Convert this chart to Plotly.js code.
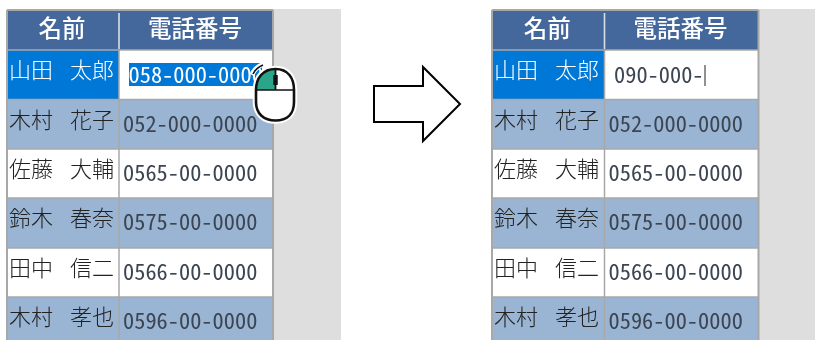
<!DOCTYPE html>
<html><head><meta charset="utf-8">
<script src="https://cdn.plot.ly/plotly-3.0.1.min.js"></script>
<style>html,body{margin:0;padding:0;background:#fff}#c{width:815px;height:340px;filter:blur(0.35px)}</style></head>
<body><div id="c"></div>
<script>
const headers = ["名前", "電話番号"];
const names = ["山田　太郎", "木村　花子", "佐藤　大輔", "鈴木　春奈", "田中　信二", "木村　孝也"];
const phonesBefore = ["058-000-0000", "052-000-0000", "0565-00-0000", "0575-00-0000", "0566-00-0000", "0596-00-0000"];
const phonesAfter = ["090-000-", "052-000-0000", "0565-00-0000", "0575-00-0000", "0566-00-0000", "0596-00-0000"];

const rowEdges = [50, 99.5, 149, 198, 248, 297, 345];
const HEAD = "#44689c", ALT = "#9ab5d3", SEL = "#0078d7", GRID = "#a8a8a8", GREY = "#dedede";
const NAMEF = '"Noto Sans CJK JP"', NUMF = '"Noto Sans Mono CJK JP","Liberation Mono",monospace';
const NUMS = 22.4, NUMC = "#3c4552";
const shapes = [], above = [];
function rect(x0, y0, x1, y1, fill, list) {
  (list || shapes).push({type: "rect", xref: "x", yref: "y", x0, y0, x1, y1, fillcolor: fill,
    line: {color: fill, width: 0}, layer: "below"});
}
const xs = [], ys = [], txt = [], col = [], size = [], fam = [], pos = [], wgt = [];
function t(x, y, s, c, sz, f, p, w) { xs.push(x); ys.push(y); txt.push(s); col.push(c); size.push(sz); fam.push(f); pos.push(p); wgt.push(w || 400); }

function table(L, M, R, G, phones) {
  rect(R, 9, G, 340, GREY);
  rect(L, 10, R, 340, "#ffffff");
  rect(L, 10, R, 50, HEAD);
  rect(M - 0.8, 13, M + 0.8, 49, "#d8dfe9");
  t((L + M) / 2 - 1, 31, headers[0], "#ffffff", 23.5, NAMEF, "middle center", 500);
  t((M + R) / 2 - 1, 31, headers[1], "#ffffff", 23.5, NAMEF, "middle center", 500);
  names.forEach((n, i) => {
    const y0 = rowEdges[i], y1 = rowEdges[i + 1];
    const base = i === 0 ? null : (i % 2 === 1 ? ALT : "#ffffff");
    rect(L, y0, M, y1, i === 0 ? SEL : base);
    rect(M, y0, R, y1, i === 0 ? "#ffffff" : base);
    const parts = n.split("　");
    const c = i === 0 ? "#ffffff" : "#222222";
    t(L + 2, y0 + 22.5, parts[0], c, 22, NAMEF, "middle right", 300);
    t(L + 63, y0 + 22.5, parts[1], c, 22, NAMEF, "middle right", 300);
    if (i > 0) t(M + 4, y0 + 26.5, phones[i], NUMC, NUMS, NUMF, "middle right", 300);
  });
  const ln = (x0, y0, x1, y1, w) => shapes.push({type: "line", xref: "x", yref: "y", x0, y0, x1, y1, line: {color: GRID, width: w}});
  rowEdges.slice(0, -1).forEach(y => ln(L, y, R, y, 1.5));
  ln(M, 50, M, 340, 1.5);
  ln(L, 10, L, 340, 2);
  ln(R, 10, R, 340, 2);
  ln(L, 10, R, 10, 2);
}

table(7, 119, 273, 341, phonesBefore);
table(492, 604.5, 758.5, 815, phonesAfter);

// selected text in the edited cell, left table
rect(129, 63, 262, 86, SEL);
t(128.5, 77, phonesBefore[0], "#ffffff", NUMS, NUMF, "middle right", 300);
// typed text and caret, right table
t(614, 77, phonesAfter[0], NUMC, NUMS, NUMF, "middle right", 300);
shapes.push({type: "line", xref: "x", yref: "y", x0: 705, x1: 705, y0: 65, y1: 86, line: {color: "#222", width: 1}});

// arrow
shapes.push({type: "path", xref: "x", yref: "y", layer: "below", fillcolor: "#ffffff", line: {color: "#000", width: 2},
  path: "M374,86 L423,86 L423,67 L460,104 L423,141 L423,122 L374,122 Z"});

// mouse pointer
const body = "M275.5,69 C288,69 294,78 294,90 L294,102 C294,114 287,120.5 275.5,120.5 C264,120.5 256,114 256,102 L256,90 C256,78 263,69 275.5,69 Z";
const P = (path, fill, lc, lw) => above.push({type: "path", xref: "x", yref: "y", layer: "above", fillcolor: fill, line: {color: lc, width: lw}, path});
P("M252,75 C254,70 258,66 264,64", "rgba(0,0,0,0)", "#ffffff", 5);
P("M253,74 C255,70 258,67 263,65", "rgba(0,0,0,0)", "#111", 1.6);
P(body, "#ffffff", "#ffffff", 6.5);
P("M275.5,69 C263,69 256,78 256,90 L275.5,90 Z", "#2aa58a", "#2aa58a", 0);
P(body, "rgba(0,0,0,0)", "#111", 2.6);
P("M256,90 L294,90", "rgba(0,0,0,0)", "#111", 1.6);
P("M275.5,69 L275.5,90", "rgba(0,0,0,0)", "#111", 1.8);
P("M275.5,75 L275.5,85", "rgba(0,0,0,0)", "#111", 4.5);

Plotly.newPlot("c", [{
  type: "scatter", mode: "text", x: xs, y: ys, text: txt, textposition: pos,
  textfont: {color: col, size: size, family: fam, weight: wgt}, cliponaxis: true, hoverinfo: "skip", showlegend: false
}], {
  width: 815, height: 340, margin: {l: 0, r: 0, t: 0, b: 0},
  paper_bgcolor: "#ffffff", plot_bgcolor: "#ffffff", showlegend: false,
  xaxis: {range: [0, 815], visible: false, fixedrange: true},
  yaxis: {range: [340, 0], visible: false, fixedrange: true},
  shapes: shapes.concat(above)
}, {displayModeBar: false, staticPlot: true});
</script></body></html>
